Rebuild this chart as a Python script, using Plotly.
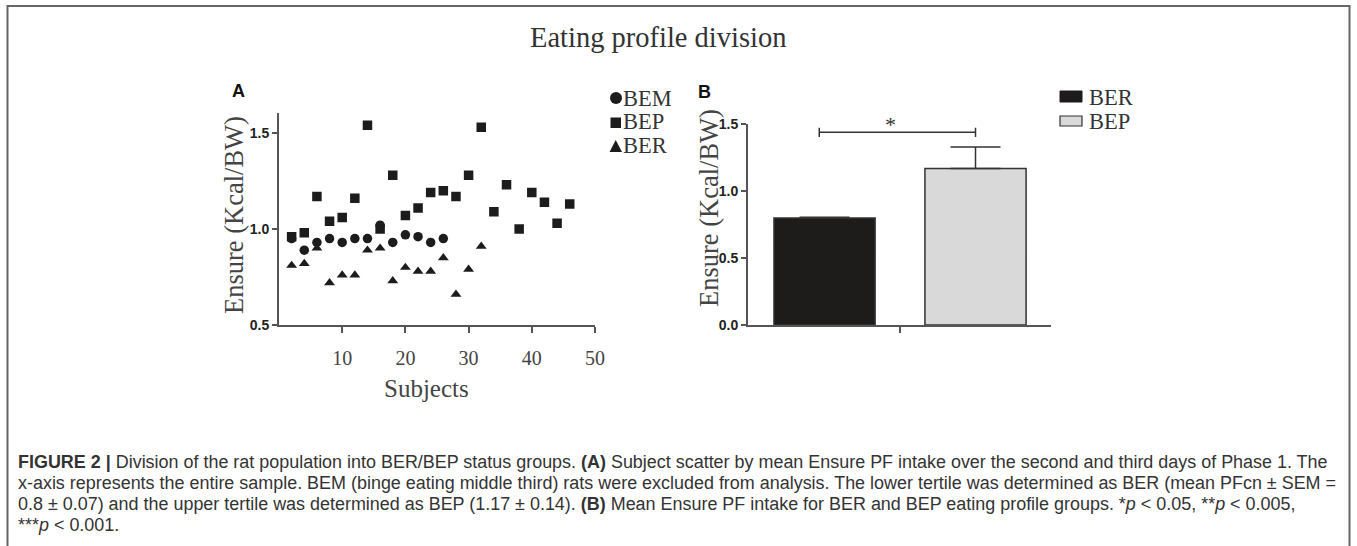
import plotly.graph_objects as go

# ---------------- data ----------------
bem_x = [2, 4, 6, 8, 10, 12, 14, 16, 18, 20, 22, 24, 26]
bem_y = [0.95, 0.89, 0.93, 0.95, 0.93, 0.95, 0.95, 1.02, 0.93, 0.97, 0.96, 0.93, 0.95]

bep_x = [2, 4, 6, 8, 10, 12, 14, 16, 18, 20, 22, 24, 26, 28, 30, 32, 34, 36, 38, 40, 42, 44, 46]
bep_y = [0.96, 0.98, 1.17, 1.04, 1.06, 1.16, 1.54, 1.00, 1.28, 1.07, 1.11, 1.19, 1.20,
         1.17, 1.28, 1.53, 1.09, 1.23, 1.00, 1.19, 1.14, 1.03, 1.13]

ber_x = [2, 4, 6, 8, 10, 12, 14, 16, 18, 20, 22, 24, 26, 28, 30, 32]
ber_y = [0.81, 0.82, 0.90, 0.72, 0.76, 0.76, 0.89, 0.90, 0.73, 0.80, 0.78, 0.78, 0.85,
         0.66, 0.79, 0.91]

bar_groups = ["BER", "BEP"]
bar_pos = [0, 1]
bar_means = [0.80, 1.17]
bar_sem = [0.005, 0.16]

scatter_yticks = [0.5, 1.0, 1.5]
scatter_xticks = [10, 20, 30, 40, 50]
bar_yticks = [0.0, 0.5, 1.0, 1.5]

caption_lines = [
    "<b>FIGURE 2 |</b> Division of the rat population into BER/BEP status groups. <b>(A)</b> Subject scatter by mean Ensure PF intake over the second and third days of Phase 1. The",
    "x-axis represents the entire sample. BEM (binge eating middle third) rats were excluded from analysis. The lower tertile was determined as BER (mean PFcn \u00b1 SEM =",
    "0.8 \u00b1 0.07) and the upper tertile was determined as BEP (1.17 \u00b1 0.14). <b>(B)</b> Mean Ensure PF intake for BER and BEP eating profile groups. *<i>p</i> &lt; 0.05, **<i>p</i> &lt; 0.005,",
    "***<i>p</i> &lt; 0.001.",
]

# ---------------- helpers (pixel -> paper) ----------------
W, H = 1357, 546
def px(x):
    return x / W
def py(y):
    return 1 - y / H

SERIF = "Liberation Serif, Times New Roman, serif"
SANS = "Liberation Sans, Arial, sans-serif"
INK = "#1c1c1c"
AX = "#555555"

fig = go.Figure()

# Panel A scatter
fig.add_trace(go.Scatter(x=bep_x, y=bep_y, mode="markers", name="BEP",
                         marker=dict(symbol="square", size=9.5, color=INK),
                         xaxis="x", yaxis="y", showlegend=False))
fig.add_trace(go.Scatter(x=bem_x, y=bem_y, mode="markers", name="BEM",
                         marker=dict(symbol="circle", size=9.5, color=INK),
                         xaxis="x", yaxis="y", showlegend=False))
fig.add_trace(go.Scatter(x=ber_x, y=ber_y, mode="markers", name="BER",
                         marker=dict(symbol="triangle-up", size=9.5, color=INK),
                         xaxis="x", yaxis="y", showlegend=False))

# Panel B bars
fig.add_trace(go.Bar(x=bar_pos, y=bar_means, width=0.67,
                     marker=dict(color=["#1e1b1b", "#d9d9d9"],
                                 line=dict(color="#333333", width=1.5)),
                     error_y=dict(type="data", array=bar_sem, arrayminus=[0, 0],
                                  symmetric=False, color="#333333", thickness=1.5, width=25),
                     xaxis="x2", yaxis="y2", showlegend=False,
                     customdata=bar_groups, hovertemplate="%{customdata}: %{y}<extra></extra>"))

shapes = []
annotations = []

# outer frame
shapes.append(dict(type="rect", xref="paper", yref="paper",
                   x0=px(7.5), x1=px(1349.5), y0=py(560), y1=py(6),
                   line=dict(color="#666666", width=2), fillcolor="rgba(0,0,0,0)"))

# significance bracket (panel B)
shapes.append(dict(type="line", xref="x2", yref="y2", x0=-0.035, x1=1.0, y0=1.44, y1=1.44,
                   line=dict(color="#333333", width=1.5)))
shapes.append(dict(type="line", xref="x2", yref="y2", x0=-0.035, x1=-0.035, y0=1.405, y1=1.475,
                   line=dict(color="#333333", width=1.5)))
shapes.append(dict(type="line", xref="x2", yref="y2", x0=1.0, x1=1.0, y0=1.405, y1=1.475,
                   line=dict(color="#333333", width=1.5)))
annotations.append(dict(x=0.44, y=1.39, xref="x2", yref="y2", text="*", showarrow=False,
                        yanchor="bottom", font=dict(family=SERIF, size=22, color="#333333")))

# Legend for panel B (swatches + text)
shapes.append(dict(type="rect", xref="paper", yref="paper",
                   x0=px(1060), x1=px(1082), y0=py(102), y1=py(91),
                   line=dict(color="#1e1b1b", width=1), fillcolor="#1e1b1b"))
shapes.append(dict(type="rect", xref="paper", yref="paper",
                   x0=px(1060), x1=px(1082), y0=py(126), y1=py(116),
                   line=dict(color="#333333", width=1.2), fillcolor="#d9d9d9"))
for txt, yy in [("BER", 97), ("BEP", 121)]:
    annotations.append(dict(x=px(1087), y=py(yy), xref="paper", yref="paper", text=txt,
                            showarrow=False, xanchor="left", yanchor="middle",
                            font=dict(family=SERIF, size=22.5, color="#333333")))

# Legend for panel A (marker glyphs + text)
shapes.append(dict(type="circle", xref="paper", yref="paper",
                   x0=px(610), x1=px(622), y0=py(104), y1=py(92),
                   line=dict(color=INK, width=0), fillcolor=INK))
shapes.append(dict(type="rect", xref="paper", yref="paper",
                   x0=px(610.5), x1=px(621), y0=py(128), y1=py(117.5),
                   line=dict(color=INK, width=0), fillcolor=INK))
shapes.append(dict(type="path", xref="paper", yref="paper",
                   path="M %f,%f L %f,%f L %f,%f Z" % (px(609.5), py(152), px(622), py(152),
                                                        px(615.75), py(140)),
                   line=dict(color=INK, width=0), fillcolor=INK))
for txt, yy in [("BEM", 98), ("BEP", 122), ("BER", 146)]:
    annotations.append(dict(x=px(621), y=py(yy), xref="paper", yref="paper", text=txt,
                            showarrow=False, xanchor="left", yanchor="middle",
                            font=dict(family=SERIF, size=22.5, color="#333333")))

# Title
annotations.append(dict(x=px(658), y=py(38), xref="paper", yref="paper",
                        text="Eating profile division", showarrow=False,
                        xanchor="center", yanchor="middle",
                        font=dict(family=SERIF, size=28.5, color="#333333")))
# panel letters
annotations.append(dict(x=px(230), y=py(91), xref="paper", yref="paper", text="<b>A</b>",
                        showarrow=False, xanchor="left", yanchor="middle",
                        font=dict(family=SANS, size=18, color="#111111")))
annotations.append(dict(x=px(696), y=py(92), xref="paper", yref="paper", text="<b>B</b>",
                        showarrow=False, xanchor="left", yanchor="middle",
                        font=dict(family=SANS, size=18, color="#111111")))
# axis titles
annotations.append(dict(x=px(234), y=py(215), xref="paper", yref="paper",
                        text="Ensure (Kcal/BW)", textangle=-90, showarrow=False,
                        xanchor="center", yanchor="middle",
                        font=dict(family=SERIF, size=26.5, color="#444444")))
annotations.append(dict(x=px(426), y=py(388), xref="paper", yref="paper",
                        text="Subjects", showarrow=False,
                        xanchor="center", yanchor="middle",
                        font=dict(family=SERIF, size=25, color="#444444")))
annotations.append(dict(x=px(709), y=py(208), xref="paper", yref="paper",
                        text="Ensure (Kcal/BW)", textangle=-90, showarrow=False,
                        xanchor="center", yanchor="middle",
                        font=dict(family=SERIF, size=26.5, color="#444444")))

# caption
for i, line in enumerate(caption_lines):
    annotations.append(dict(x=px(16), y=py(462 + 21 * i), xref="paper", yref="paper",
                            text=line, showarrow=False, xanchor="left", yanchor="middle",
                            align="left",
                            font=dict(family=SANS, size=17.95, color="#333333")))

axis_common = dict(showline=True, linecolor=AX, linewidth=2, ticks="outside",
                   tickcolor=AX, tickwidth=2, showgrid=False, zeroline=False,
                   automargin=False)

fig.update_layout(
    width=W, height=H, autosize=False,
    margin=dict(l=0, r=0, t=0, b=0, pad=0, autoexpand=False),
    paper_bgcolor="white", plot_bgcolor="white",
    xaxis=dict(domain=[px(279), px(595)], range=[0, 50], tickvals=scatter_xticks,
               ticklen=6, ticklabelstandoff=8, anchor="y",
               tickfont=dict(family=SERIF, size=20, color="#444444"), **axis_common),
    yaxis=dict(domain=[py(325), py(112.7)], range=[0.5, 1.606], tickvals=scatter_yticks,
               tickformat=".1f", ticklen=5, anchor="x",
               tickfont=dict(family=SANS, size=14, color="#222222", weight="bold"), **axis_common),
    xaxis2=dict(domain=[px(748), px(1051)], range=[-0.507, 1.5], tickvals=[0.5], ticktext=[""],
                ticklen=6, anchor="y2", **axis_common),
    yaxis2=dict(domain=[py(325), py(124.3)], range=[0, 1.5], tickvals=bar_yticks,
                tickformat=".1f", ticklen=5, anchor="x2",
                tickfont=dict(family=SANS, size=14, color="#222222", weight="bold"), **axis_common),
    shapes=shapes,
    annotations=annotations,
)

css_js = ("var s=document.createElement('style');"
          "s.innerHTML='html,body{margin:0!important;padding:0!important;overflow:hidden!important;}';"
          "document.head.appendChild(s);")

fig.write_html("out.html", config={"displayModeBar": False}, post_script=css_js)
